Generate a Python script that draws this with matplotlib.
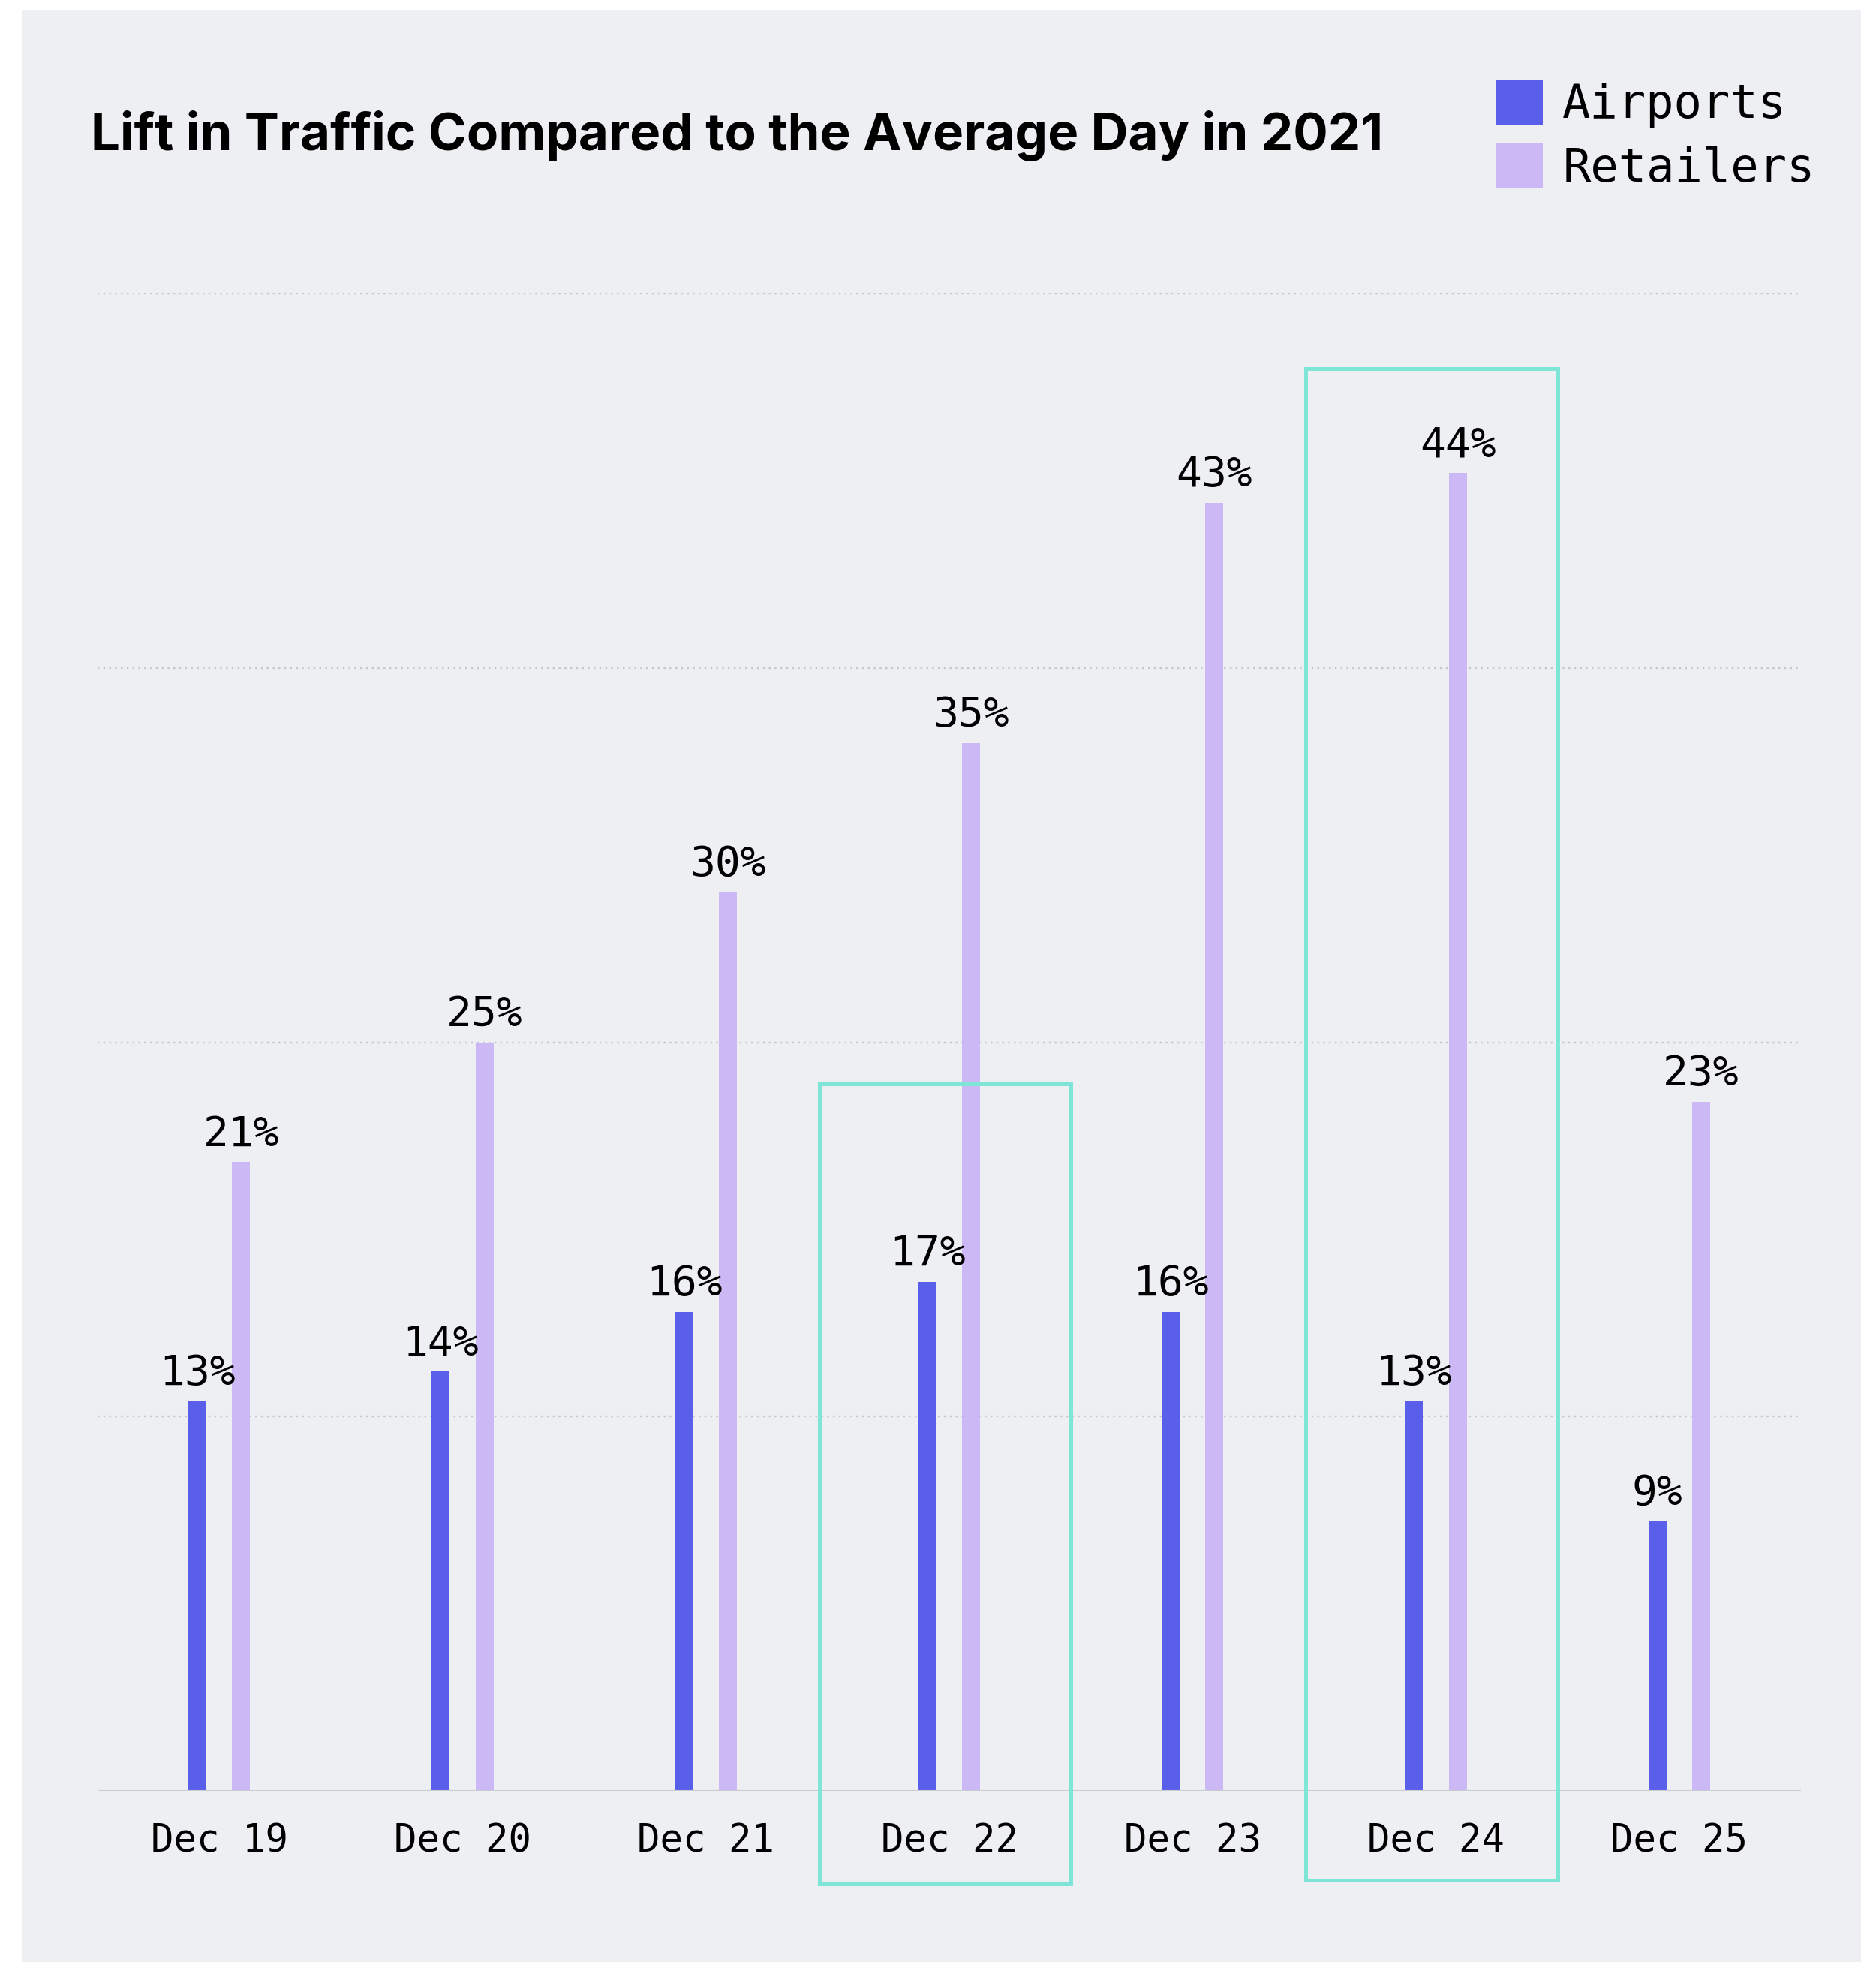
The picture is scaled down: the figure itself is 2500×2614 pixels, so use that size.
import matplotlib
matplotlib.use("Agg")
import matplotlib.pyplot as plt
import matplotlib.patches as patches
import numpy as np

# Data
days = ["Dec 19", "Dec 20", "Dec 21", "Dec 22", "Dec 23", "Dec 24", "Dec 25"]
airports = [13, 14, 16, 17, 16, 13, 9]
retailers = [21, 25, 30, 35, 43, 44, 23]
highlight_days = ["Dec 22", "Dec 24"]
highlight_tops = [23.6, 47.5]
highlight_bottoms = [-3.1, -2.98]

# Colors
c_air = "#5A5FEA"
c_ret = "#CBB8F5"
c_bg = "#EEEFF3"
c_box = "#7FE5D6"
mono = "DejaVu Sans Mono"

fig = plt.figure(figsize=(10, 10.456), dpi=250)
fig.patch.set_facecolor("white")

# grey panel behind everything
fig.patches.append(patches.Rectangle((29 / 2500, 0), (2480 - 29) / 2500, 1 - 13 / 2614,
                                     transform=fig.transFigure, facecolor=c_bg,
                                     edgecolor="none", zorder=-10))

ax = fig.add_axes([0.052, 0.0872, 0.908, 0.7632])
ax.set_facecolor("none")

x = np.arange(len(days))
w = 0.074
off = 0.09
b1 = ax.bar(x - off, airports, width=w, color=c_air, label="Airports", zorder=3)
b2 = ax.bar(x + off, retailers, width=w, color=c_ret, label="Retailers", zorder=3)

# value labels
for xi, v in zip(x - off, airports):
    ax.annotate(f"{v}%", (xi, v), xytext=(0, 6.3), textcoords="offset points",
                ha="center", va="baseline", fontsize=16.2, family=mono, zorder=5)
for xi, v in zip(x + off, retailers):
    ax.annotate(f"{v}%", (xi, v), xytext=(0, 6.3), textcoords="offset points",
                ha="center", va="baseline", fontsize=16.2, family=mono, zorder=5)

# highlight boxes
for d, top, bottom in zip(highlight_days, highlight_tops, highlight_bottoms):
    i = days.index(d)
    rect = patches.Rectangle((i - 0.535, bottom), 1.036, top - bottom, fill=False,
                             edgecolor=c_box, linewidth=1.45, clip_on=False, zorder=6)
    ax.add_patch(rect)

ax.set_xlim(-0.5, len(days) - 0.5)
ax.set_ylim(0, 50)
ax.set_yticks([12.5, 25, 37.5, 50])
ax.set_yticklabels([])
ax.grid(axis="y", color="#C5C7CC", linewidth=0.7, linestyle=(0, (1, 2.2)), zorder=0)
ax.axhline(0, color="#C8CBCF", linewidth=0.6, zorder=4)

ax.set_xticks(x)
ax.set_xticklabels(days, fontsize=14.6, family=mono)
ax.tick_params(axis="both", length=0)
ax.tick_params(axis="x", pad=12.2)
for s in ax.spines.values():
    s.set_visible(False)

# title
fig.text(121 / 2500, 1 - 200 / 2614, "Lift in Traffic Compared to the Average Day in 2021",
         fontsize=19.9, fontweight="bold", family="Inter", va="baseline", ha="left")

# legend
fig.legend(handles=[b1, b2], labels=["Airports", "Retailers"], loc="upper left",
           bbox_to_anchor=(1994 / 2500, 1 - 106 / 2614), frameon=False,
           prop={"family": mono, "size": 17.9}, handlelength=1.0, handleheight=1.1,
           handletextpad=0.42, labelspacing=0.34, borderpad=0, borderaxespad=0)

fig.savefig("out.png", dpi=250)
